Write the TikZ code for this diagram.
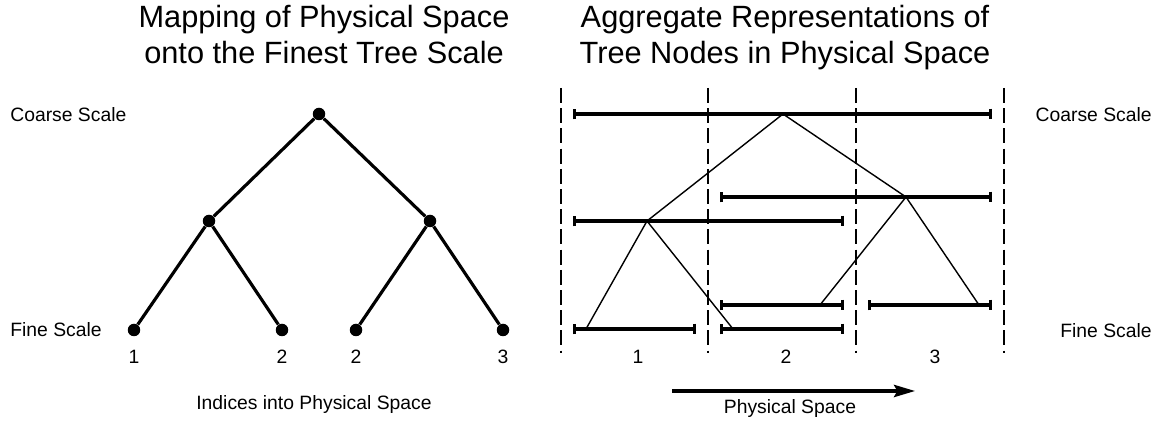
\documentclass[tikz,border=0pt]{standalone}
\usepackage{fontspec}
\setmainfont{Liberation Sans}
\usetikzlibrary{positioning, arrows.meta}

\tikzset{
  dot/.style={circle, fill=black, inner sep=0pt, minimum size=0.25cm},
  branch/.style={line width=1.8pt},
  link/.style={line width=0.8pt},
  span/.style={line width=1.8pt, {Bar[width=6pt,line width=1.8pt]}-{Bar[width=6pt,line width=1.8pt]}},
  divider/.style={line width=0.8pt, dash pattern=on 8.5pt off 3pt},
  lbl/.style={font=\fontsize{11}{13}\selectfont, inner sep=0pt},
  heading/.style={font=\fontsize{17.5}{20.5}\selectfont, align=center, inner sep=0pt}
}

\begin{document}
\begin{tikzpicture}[x=0.02cm, y=-0.02cm]
    \useasboundingbox (0,0) rectangle (1164,421);

    % Titles
    \node[heading, anchor=base] (ltitle) at (324,64) {Mapping of Physical Space\\onto the Finest Tree Scale};
    \node[heading, anchor=base] (rtitle) at (785,64) {Aggregate Representations of\\Tree Nodes in Physical Space};

    % Left: the tree
    \node[dot] (root) at (319,114) {};
    \node[dot] (ml) at (209,221) {};
    \node[dot] (mr) at (430,221) {};
    \node[dot] (f1) at (134,330) {};
    \node[dot] (f2) at (282,330) {};
    \node[dot] (f3) at (356,330) {};
    \node[dot] (f4) at (503,330) {};
    \draw[branch] (root) -- (ml);
    \draw[branch] (root) -- (mr);
    \draw[branch] (ml) -- (f1);
    \draw[branch] (ml) -- (f2);
    \draw[branch] (mr) -- (f3);
    \draw[branch] (mr) -- (f4);

    % Leaf indices
    \node[lbl] (i1) at (134,357) {1};
    \node[lbl] (i2) at (282,357) {2};
    \node[lbl] (i3) at (356,357) {2};
    \node[lbl] (i4) at (503,357) {3};

    % Scale labels
    \node[lbl, anchor=west] (lcoarse) at (10,115) {Coarse Scale};
    \node[lbl, anchor=west] (lfine) at (10,330) {Fine Scale};
    \node[lbl] (indices) at (314,405) {Indices into Physical Space};

    % Right: cell boundaries
    \foreach \x in {561,708,856,1004}
      \draw[divider] (\x,88) -- (\x,353);

    % Intervals of the tree nodes
    \coordinate (s0a) at (573,114);  \coordinate (s0b) at (992,114);
    \coordinate (s1a) at (573,221);  \coordinate (s1b) at (844,221);
    \coordinate (s2a) at (720,197);  \coordinate (s2b) at (992,197);
    \coordinate (s3a) at (573,329);  \coordinate (s3b) at (696,329);
    \coordinate (s4a) at (720,329);  \coordinate (s4b) at (844,329);
    \coordinate (s5a) at (720,305);  \coordinate (s5b) at (844,305);
    \coordinate (s6a) at (868,305);  \coordinate (s6b) at (992,305);
    \foreach \i in {0,...,6}
      \draw[span] (s\i a) -- (s\i b);

    % Tree drawn over the intervals
    \coordinate (t0) at (783,114);
    \coordinate (t1) at (647,221);
    \coordinate (t2) at (906,197);
    \coordinate (t3) at (586,329);
    \coordinate (t4) at (733,329);
    \coordinate (t5) at (820,305);
    \coordinate (t6) at (979,305);
    \draw[link] (t0) -- (t1);
    \draw[link] (t0) -- (t2);
    \draw[link] (t1) -- (t3);
    \draw[link] (t1) -- (t4);
    \draw[link] (t2) -- (t5);
    \draw[link] (t2) -- (t6);

    % Cell numbers
    \node[lbl] (c1) at (638,357) {1};
    \node[lbl] (c2) at (786,357) {2};
    \node[lbl] (c3) at (935,357) {3};

    \node[lbl, anchor=east] (rcoarse) at (1152,115) {Coarse Scale};
    \node[lbl, anchor=east] (rfine) at (1152,331) {Fine Scale};

    % Direction of physical space
    \coordinate (pa) at (672,391);
    \coordinate (pb) at (915,391);
    \draw[line width=1.8pt, -{Stealth[length=12pt,width=7pt,inset=2pt]}] (pa) -- (pb);
    \node[lbl] (phys) at (790,409) {Physical Space};
\end{tikzpicture}
\end{document}
